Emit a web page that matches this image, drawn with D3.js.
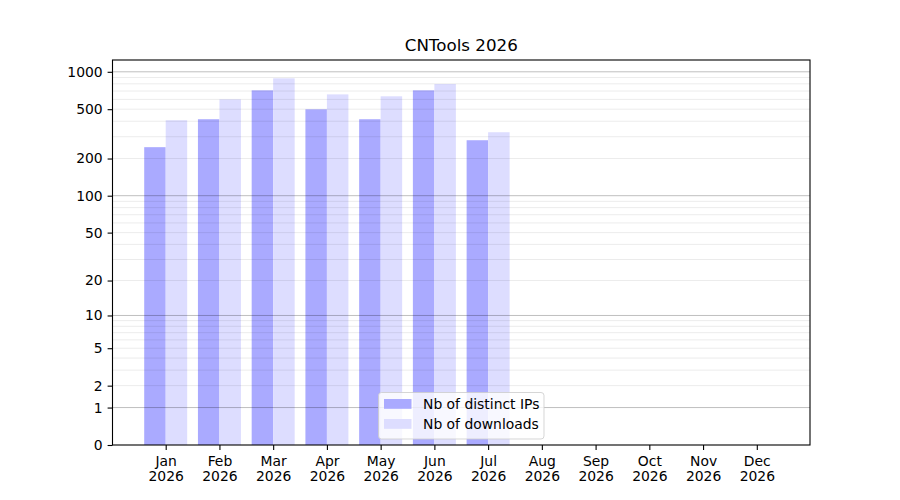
<!DOCTYPE html>
<meta charset="utf-8">
<style>
body{ margin:0; background:#fff; }
text{ font-family:"DejaVu Sans", sans-serif; fill:#000; }
.tick text{ font-size:13.9px; }
.title{ font-size:16.7px; text-anchor:middle; }
.legend text{ font-size:13.9px; }
</style>
<body>
<script src="https://d3js.org/d3.v7.min.js"></script>
<script>

var months = ["Jan","Feb","Mar","Apr","May","Jun","Jul","Aug","Sep","Oct","Nov","Dec"];
var year = "2026";
var distinctIPs = [247, 415, 709, 499, 415, 709, 281, 0, 0, 0, 0, 0];
var downloads   = [407, 600, 886, 658, 635, 797, 326, 0, 0, 0, 0, 0];
var yTicks = [0, 1, 2, 5, 10, 20, 50, 100, 200, 500, 1000];
var majorGrid = [1, 10, 100, 1000];
var minorGrid = [2,3,4,5,6,7,8,9, 20,30,40,50,60,70,80,90, 200,300,400,500,600,700,800,900];

var W = 900, H = 500;
var m = {left:112.5, right:810, top:60, bottom:445};
var barW = 0.4;

var svg = d3.select("body").append("svg").attr("width", W).attr("height", H);

var x = d3.scaleLinear()
	.domain([-barW - 0.05*(months.length-1+2*barW), months.length-1+barW + 0.05*(months.length-1+2*barW)])
	.range([m.left, m.right]);

var ymax = d3.max(downloads.concat(distinctIPs));
var ytop = Math.expm1(1.05*Math.log1p(ymax));
var y = d3.scaleSymlog().constant(1).domain([0, ytop]).range([m.bottom, m.top]);

svg.append("text").attr("class","title").attr("x",(m.left+m.right)/2).attr("y",51).text("CNTools " + year);

// bars
var g = svg.append("g");
g.selectAll(".ip").data(distinctIPs).enter().append("rect")
	.attr("x",(d,i)=>x(i-barW)).attr("width",(d,i)=>x(i)-x(i-barW))
	.attr("y",d=>y(d)).attr("height",d=>y(0)-y(d))
	.attr("fill","#aaaaff");
g.selectAll(".dl").data(downloads).enter().append("rect")
	.attr("x",(d,i)=>x(i)).attr("width",(d,i)=>x(i+barW)-x(i))
	.attr("y",d=>y(d)).attr("height",d=>y(0)-y(d))
	.attr("fill","#ddddff");

// grid on top of bars
svg.append("g").selectAll("line").data(minorGrid.filter(v=>v<ytop)).enter().append("line")
	.attr("x1",m.left).attr("x2",m.right).attr("y1",d=>y(d)).attr("y2",d=>y(d))
	.attr("stroke","#000").attr("stroke-opacity",0.08).attr("stroke-width",1);
svg.append("g").selectAll("line").data(majorGrid.filter(v=>v<ytop)).enter().append("line")
	.attr("x1",m.left).attr("x2",m.right).attr("y1",d=>y(d)).attr("y2",d=>y(d))
	.attr("stroke","#000").attr("stroke-opacity",0.25).attr("stroke-width",1);

// axes
var yAxis = svg.append("g").attr("transform","translate("+m.left+",0)")
	.call(d3.axisLeft(y).tickValues(yTicks).tickFormat(d3.format("d")).tickSize(4.9).tickPadding(4.9));
yAxis.select(".domain").remove();
yAxis.selectAll(".tick line").attr("stroke-width",1.1);

var xAxis = svg.append("g").attr("transform","translate(0,"+m.bottom+")")
	.call(d3.axisBottom(x).tickValues(d3.range(months.length)).tickFormat(i=>months[i]).tickSize(4.9).tickPadding(4.9));
xAxis.select(".domain").remove();
xAxis.selectAll(".tick line").attr("stroke-width",1.1);
xAxis.selectAll(".tick text").each(function(i){
	var t = d3.select(this).text(null).attr("dy",null).attr("y",21);
	t.append("tspan").attr("x",0).text(months[i]);
	t.append("tspan").attr("x",0).attr("dy",14.5).text(year);
});

svg.append("rect").attr("x",m.left).attr("y",m.top)
	.attr("width",m.right-m.left).attr("height",m.bottom-m.top)
	.attr("fill","none").attr("stroke","#000").attr("stroke-width",1.1);

// legend
var series = [{name:"Nb of distinct IPs", color:"#aaaaff"},{name:"Nb of downloads", color:"#ddddff"}];
var lg = svg.append("g").attr("class","legend").attr("transform","translate(378.5,392.5)");
lg.append("rect").attr("width",165.5).attr("height",46.5).attr("rx",3)
	.attr("fill","#fff").attr("fill-opacity",0.8).attr("stroke","#ccc").attr("stroke-opacity",0.8);
series.forEach(function(s,k){
	lg.append("rect").attr("x",5.5).attr("y",6.5+k*20).attr("width",27.5).attr("height",9.8).attr("fill",s.color);
	lg.append("text").attr("x",44.5).attr("y",16.5+k*20).text(s.name);
});
</script>
</body>
